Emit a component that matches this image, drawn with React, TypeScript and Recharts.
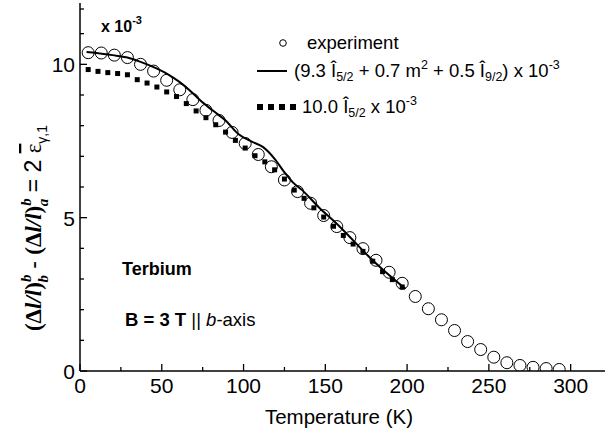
import { ComposedChart, Line, Scatter, XAxis, YAxis } from 'recharts'

// experiment (open circles)
const expTemp = [5, 13, 21, 29, 37, 45, 53, 61, 69, 77, 85, 93, 101, 109, 117, 125, 133, 141, 149, 157, 165, 173, 181, 189, 197, 205, 213, 221, 229, 237, 245, 253, 261, 269, 277, 285, 293]
const expValue = [10.38, 10.37, 10.3, 10.22, 10.0, 9.78, 9.48, 9.17, 8.85, 8.5, 8.17, 7.78, 7.42, 7.06, 6.66, 6.23, 5.85, 5.47, 5.07, 4.71, 4.35, 3.99, 3.61, 3.22, 2.86, 2.43, 2.03, 1.67, 1.32, 0.96, 0.7, 0.45, 0.27, 0.18, 0.12, 0.08, 0.05]

// (9.3 I5/2 + 0.7 m2 + 0.5 I9/2) x 10^-3, solid line
const fitTemp = [4, 20, 29, 37, 45, 53, 61, 69, 73, 81, 89, 97, 105, 112, 119, 125, 130, 136, 146, 157, 167, 177, 187, 199]
const fitValue = [10.4, 10.3, 10.22, 10.08, 9.91, 9.7, 9.42, 9.06, 8.85, 8.5, 8.17, 7.72, 7.48, 7.3, 6.92, 6.48, 6.16, 5.89, 5.34, 4.8, 4.26, 3.71, 3.22, 2.68]

// 10.0 I5/2 x 10^-3, square dots
const ipTemp = [5, 11, 17, 23, 29, 35, 41, 47, 53, 59, 65, 71, 77, 83, 89, 95, 101, 107, 113, 119, 125, 131, 137, 143, 149, 155, 161, 167, 173, 179, 185, 191, 197]
const ipValue = [9.83, 9.77, 9.73, 9.7, 9.66, 9.5, 9.39, 9.26, 9.1, 8.95, 8.72, 8.48, 8.26, 8.03, 7.79, 7.52, 7.27, 7.02, 6.82, 6.56, 6.26, 5.9, 5.63, 5.32, 5.02, 4.72, 4.42, 4.14, 3.9, 3.58, 3.24, 2.98, 2.74]

const xTicks = [0, 25, 50, 75, 100, 125, 150, 175, 200, 225, 250, 275, 300]
const yTicks = [0, 1, 2, 3, 4, 5, 6, 7, 8, 9, 10, 11, 12]

const expData = expTemp.map((t, i) => ({ t, v: expValue[i] }))
const fitData = fitTemp.map((t, i) => ({ t, v: fitValue[i] }))
const ipData = ipTemp.map((t, i) => ({ t, v: ipValue[i] }))

const sans = 'Liberation Sans, Arial, sans-serif'
const serif = 'Liberation Serif, Times New Roman, serif'
const tickFont = { fontFamily: sans, fontSize: 21, fill: '#000' }

function BottomTick({ x, y, payload }: any) {
  const major = payload.value % 50 === 0
  return (
    <g>
      <line x1={x} x2={x} y1={y} y2={y - (major ? 7 : 4)} stroke="#000" strokeWidth={1.3} />
      {major && <text x={x} y={y + 22} textAnchor="middle" style={tickFont}>{payload.value}</text>}
    </g>
  )
}

function TopTick({ x, y, payload }: any) {
  const major = payload.value % 50 === 0
  return <line x1={x} x2={x} y1={y} y2={y + (major ? 7 : 4)} stroke="#000" strokeWidth={1.3} />
}

function LeftTick({ x, y, payload }: any) {
  const major = payload.value % 5 === 0
  return (
    <g>
      <line x1={x} x2={x + (major ? 7 : 4)} y1={y} y2={y} stroke="#000" strokeWidth={1.3} />
      {major && <text x={x - 5} y={y + 8} textAnchor="end" style={tickFont}>{payload.value}</text>}
    </g>
  )
}

const OpenCircle = (p: any) => <circle cx={p.cx} cy={p.cy} r={6} fill="none" stroke="#000" strokeWidth={1} />
const Square = (p: any) => <rect x={p.cx - 2.5} y={p.cy - 2.5} width={5} height={5} fill="#000" />

export default function App() {
  return (
    <div style={{ position: 'absolute', left: 0, top: 0, width: 605, height: 442, background: '#fff' }}>
      <ComposedChart width={605} height={442} margin={{ top: 3, right: 0, bottom: 0, left: 0 }}>
        <XAxis xAxisId="b" type="number" dataKey="t" orientation="bottom" domain={[0, 321]} ticks={xTicks}
          allowDataOverflow height={71} tickSize={0} tickMargin={0} tick={BottomTick}
          axisLine={{ stroke: '#000', strokeWidth: 1.5 }} tickLine={false} />
        <XAxis xAxisId="t" type="number" dataKey="t" orientation="top" domain={[0, 321]} ticks={xTicks}
          allowDataOverflow height={0} tickSize={0} tickMargin={0} tick={TopTick}
          axisLine={{ stroke: '#000', strokeWidth: 1.5 }} tickLine={false} />
        <YAxis yAxisId="l" type="number" dataKey="v" domain={[0, 12]} ticks={yTicks} allowDataOverflow
          width={80} tickSize={0} tickMargin={0} tick={LeftTick}
          axisLine={{ stroke: '#000', strokeWidth: 1.5 }} tickLine={false} />
        <Scatter xAxisId="b" yAxisId="l" data={expData} dataKey="v" shape={OpenCircle} isAnimationActive={false} />
        <Line xAxisId="b" yAxisId="l" data={fitData} dataKey="v" type="monotone" stroke="#000" strokeWidth={2}
          dot={false} activeDot={false} isAnimationActive={false} />
        <Scatter xAxisId="b" yAxisId="l" data={ipData} dataKey="v" shape={Square} isAnimationActive={false} />
      </ComposedChart>

      <svg width={605} height={442} style={{ position: 'absolute', left: 0, top: 0, pointerEvents: 'none' }}>
        {/* y axis title */}
        <text transform="translate(41,228) rotate(-90)" textAnchor="middle" style={{ fontSize: 23, fill: '#000' }}>
          <tspan fontFamily={serif} fontWeight="bold">(Δ</tspan>
          <tspan fontFamily={serif} fontWeight="bold" fontStyle="italic">l/l</tspan>
          <tspan fontFamily={serif} fontWeight="bold">)</tspan>
          <tspan fontFamily={serif} fontWeight="bold" fontStyle="italic" fontSize={15} dy={-10}>b</tspan>
          <tspan fontFamily={serif} fontWeight="bold" fontStyle="italic" fontSize={15} dx={-8} dy={17}>b</tspan>
          <tspan fontFamily={sans} dy={-7}> - </tspan>
          <tspan fontFamily={serif} fontWeight="bold">(Δ</tspan>
          <tspan fontFamily={serif} fontWeight="bold" fontStyle="italic">l/l</tspan>
          <tspan fontFamily={serif} fontWeight="bold">)</tspan>
          <tspan fontFamily={serif} fontWeight="bold" fontStyle="italic" fontSize={15} dy={-10}>b</tspan>
          <tspan fontFamily={serif} fontWeight="bold" fontStyle="italic" fontSize={15} dx={-8} dy={17}>a</tspan>
          <tspan fontFamily={sans} dy={-7}> = 2 </tspan>
          <tspan fontFamily={serif} style={{ textDecoration: 'overline' }}>ε</tspan>
          <tspan fontFamily={sans} fontSize={14} dy={6}>γ,1</tspan>
        </text>

        {/* x axis title */}
        <text x={339} y={424} textAnchor="middle" style={{ fontFamily: sans, fontSize: 20.5 }}>Temperature (K)</text>

        {/* scale factor */}
        <text x={101} y={32} style={{ fontFamily: sans, fontSize: 16, fontWeight: 'bold' }}>
          x 10<tspan fontSize={11} dy={-8}>-3</tspan>
        </text>

        <text x={122} y={275} style={{ fontFamily: sans, fontSize: 18, fontWeight: 'bold' }}>Terbium</text>
        <text x={125} y={326} style={{ fontFamily: sans, fontSize: 18.5 }}>
          <tspan fontWeight="bold">B = 3 T </tspan>
          <tspan> || </tspan>
          <tspan fontStyle="italic">b</tspan>
          <tspan>-axis</tspan>
        </text>

        {/* legend */}
        <circle cx={283} cy={43} r={3.3} fill="none" stroke="#000" strokeWidth={1} />
        <text x={307} y={49} style={{ fontFamily: sans, fontSize: 18.5 }}>experiment</text>

        <line x1={257} x2={287} y1={71} y2={71} stroke="#000" strokeWidth={2} />
        <text x={294} y={77} style={{ fontFamily: sans, fontSize: 18.5 }}>
          (9.3 Î<tspan fontSize={12.5} dy={4}>5/2</tspan>
          <tspan dy={-4}> + 0.7 m</tspan><tspan fontSize={12.5} dy={-8}>2</tspan>
          <tspan dy={8}> + 0.5 Î</tspan><tspan fontSize={12.5} dy={4}>9/2</tspan>
          <tspan dy={-4}>) x 10</tspan><tspan fontSize={12.5} dy={-8}>-3</tspan>
        </text>

        {[260, 271, 282, 293].map(cx => (
          <rect key={cx} x={cx - 3} y={104} width={6} height={6} fill="#000" />
        ))}
        <text x={302} y={113} style={{ fontFamily: sans, fontSize: 18.5 }}>
          10.0 Î<tspan fontSize={12.5} dy={4}>5/2</tspan>
          <tspan dy={-4}> x 10</tspan><tspan fontSize={12.5} dy={-8}>-3</tspan>
        </text>
      </svg>
    </div>
  )
}
